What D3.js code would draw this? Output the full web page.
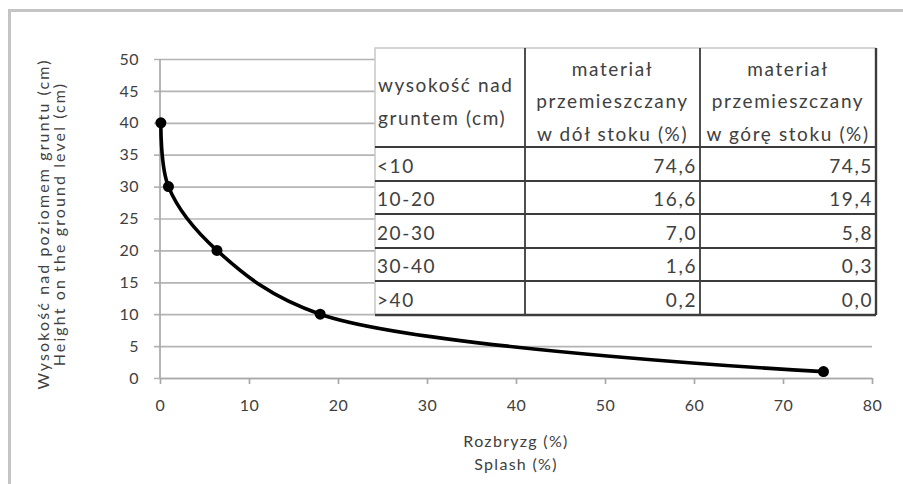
<!DOCTYPE html>
<html>
<head>
<meta charset="utf-8">
<script src="https://cdn.jsdelivr.net/npm/d3@7"></script>
<style>
  html, body { margin: 0; padding: 0; background: #fff; }
  svg { display: block; }
  text { font-family: Lato, "Open Sans", sans-serif; fill: #404040; }
</style>
</head>
<body>
<svg id="chart" width="903" height="484"></svg>
<script>
// ---- data ----
const heights = [40, 30, 20, 10, 1];          // cm above ground
const splash = [0.1, 0.95, 6.4, 18, 74.55];   // splash (%)
const xTicks = [0, 10, 20, 30, 40, 50, 60, 70, 80];
const yTicks = [0, 5, 10, 15, 20, 25, 30, 35, 40, 45, 50];
const tableHeader = [
  ["wysokość nad", "gruntem (cm)"],
  ["materiał", "przemieszczany", "w dół stoku (%)"],
  ["materiał", "przemieszczany", "w górę stoku (%)"]
];
const tableClasses = ["<10", "10-20", "20-30", "30-40", ">40"];
const downSlope = ["74,6", "16,6", "7,0", "1,6", "0,2"];
const upSlope = ["74,5", "19,4", "5,8", "0,3", "0,0"];
const xTitle = ["Rozbryzg (%)", "Splash (%)"];
const yTitle = ["Wysokość nad poziomem gruntu (cm)", "Height on the ground level (cm)"];

const svg = d3.select("#chart");

// outer frame (only top/left visible)
svg.append("rect")
  .attr("x", 9.5).attr("y", 10.5)
  .attr("width", 1000).attr("height", 1000)
  .attr("fill", "#fff")
  .attr("stroke", "#c4c4c4").attr("stroke-width", 3);

const x = d3.scaleLinear().domain([0, 80]).range([160, 872]);
const y = d3.scaleLinear().domain([0, 50]).range([378, 59]);

// horizontal gridlines + left ticks
const yAxis = d3.axisLeft(y).tickValues(yTicks).tickSize(-(872 - 160)).tickPadding(21).tickSizeOuter(0);
const gy = svg.append("g").attr("transform", "translate(160,0)").call(yAxis);
gy.select(".domain").remove();
gy.selectAll(".tick line").attr("stroke", "#b4b4b4").attr("stroke-width", 1.7).attr("x1", -6);
gy.selectAll(".tick text").attr("font-size", 16).attr("fill", "#3c3c3c")
  .style("font-family", "Lato, sans-serif").style("letter-spacing", "0.5px");

// y axis line
svg.append("line").attr("x1", 160).attr("x2", 160).attr("y1", y(50)).attr("y2", y(0))
  .attr("stroke", "#a8a8a8").attr("stroke-width", 1.7);

// x axis
const xAxis = d3.axisBottom(x).tickValues(xTicks).tickSize(6).tickPadding(16).tickSizeOuter(0);
const gx = svg.append("g").attr("transform", `translate(0,${y(0)})`).call(xAxis);
gx.select(".domain").attr("stroke", "#a8a8a8").attr("stroke-width", 1.7);
gx.selectAll(".tick line").attr("stroke", "#a8a8a8").attr("stroke-width", 1.7);
gx.selectAll(".tick text").attr("font-size", 16).attr("fill", "#3c3c3c")
  .style("font-family", "Lato, sans-serif").style("letter-spacing", "0.5px");

// table
const colX = [375, 525, 700, 876];
const rowY = [48, 147, 181, 214, 248, 281, 315];
const tbl = svg.append("g");
tbl.append("rect").attr("x", colX[0]).attr("y", rowY[0])
  .attr("width", colX[3] - colX[0]).attr("height", rowY[6] - rowY[0])
  .attr("fill", "#fff");
// light top/left border
tbl.append("path")
  .attr("d", `M${colX[0]},${rowY[6]}V${rowY[0]}H${colX[3]}`)
  .attr("fill", "none").attr("stroke", "#c8c8c8").attr("stroke-width", 1.5);
// dark internal & right/bottom
colX.slice(1).forEach((cx, i) => {
  tbl.append("line").attr("x1", cx).attr("x2", cx).attr("y1", rowY[0]).attr("y2", rowY[6])
    .attr("stroke", "#3c3c3c").attr("stroke-width", i === 2 ? 2.4 : 1.8);
});
rowY.slice(1).forEach((ry, i) => {
  tbl.append("line").attr("x1", colX[0]).attr("x2", colX[3]).attr("y1", ry).attr("y2", ry)
    .attr("stroke", "#3c3c3c").attr("stroke-width", i === 5 ? 2.4 : 1.8);
});
const fs = 19;
const ls = "1.6px";
function tstyle(sel) {
  return sel.attr("font-size", fs).style("letter-spacing", ls).attr("fill", "#333")
    .attr("dominant-baseline", "central");
}
// header
tstyle(tbl.append("g").selectAll("text").data(tableHeader[0]).join("text")
  .attr("x", colX[0] + 3).attr("y", (d, i) => 84 + i * 33)).text(d => d);
[1, 2].forEach(c => {
  tstyle(tbl.append("g").selectAll("text").data(tableHeader[c]).join("text")
    .attr("x", (colX[c] + colX[c + 1]) / 2).attr("y", (d, i) => 68 + i * 32.5)
    .attr("text-anchor", "middle")).text(d => d);
});
// body
tableClasses.forEach((cls, r) => {
  const cy = (rowY[r + 1] + rowY[r + 2]) / 2 + 1;
  tstyle(tbl.append("text").attr("x", colX[0] + 2).attr("y", cy)).text(cls);
  tstyle(tbl.append("text").attr("x", colX[2] - 3).attr("y", cy).attr("text-anchor", "end")).text(downSlope[r]);
  tstyle(tbl.append("text").attr("x", colX[3] - 3).attr("y", cy).attr("text-anchor", "end")).text(upSlope[r]);
});

// smoothed line
const pts = heights.map((h, i) => [splash[i], h]);
const line = d3.line().x(d => x(d[0])).y(d => y(d[1])).curve(d3.curveCatmullRom.alpha(0.5));
svg.append("path").datum(pts).attr("d", line)
  .attr("fill", "none").attr("stroke", "#000").attr("stroke-width", 3.6)
  .attr("stroke-linejoin", "round");
svg.append("g").selectAll("circle").data(pts).join("circle")
  .attr("cx", d => x(d[0])).attr("cy", d => y(d[1])).attr("r", 5.5).attr("fill", "#000");

// axis titles
svg.append("g").selectAll("text").data(xTitle).join("text")
  .attr("x", 516).attr("y", (d, i) => 440 + i * 23)
  .attr("text-anchor", "middle").attr("dominant-baseline", "central")
  .attr("font-size", 16).style("letter-spacing", "1.3px").attr("fill", "#3c3c3c").text(d => d);
svg.append("g").selectAll("text").data(yTitle).join("text")
  .attr("transform", (d, i) => `translate(${42 + i * 16},224) rotate(-90)`)
  .attr("text-anchor", "middle").attr("dominant-baseline", "central")
  .attr("font-size", 16).style("letter-spacing", "2.1px").attr("fill", "#3c3c3c").text(d => d);
</script>
</body>
</html>
